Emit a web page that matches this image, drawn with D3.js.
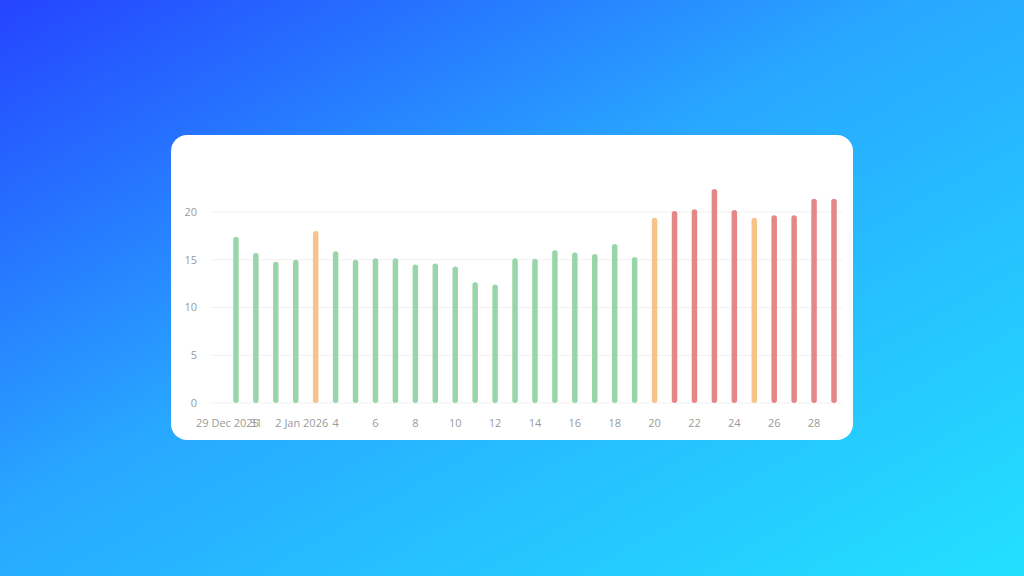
<!DOCTYPE html>
<html>
<head>
<meta charset="utf-8">
<script src="https://cdn.jsdelivr.net/npm/d3@7/dist/d3.min.js"></script>
<style>
  html, body { margin: 0; padding: 0; width: 1024px; height: 576px; overflow: hidden; }
  svg { display: block; }
  text { font-family: "Open Sans", "Noto Sans", sans-serif; }
</style>
</head>
<body>
<svg id="chart" width="1024" height="576"></svg>
<script>
// ---- data ----
const startDate = "2025-12-30";
const values = [17.4, 15.7, 14.8, 15.0, 18.0, 15.9, 15.0, 15.15, 15.15, 14.5,
                14.6, 14.3, 12.65, 12.4, 15.15, 15.1, 16.0, 15.75, 15.6, 16.65,
                15.3, 19.4, 20.1, 20.3, 22.4, 20.2, 19.4, 19.65, 19.65, 21.4, 21.4];
const statuses = ["g","g","g","g","o","g","g","g","g","g",
                  "g","g","g","g","g","g","g","g","g","g",
                  "g","o","r","r","r","r","o","r","r","r","r"];
const yTicks = [0, 5, 10, 15, 20];
const xTickDates = ["2025-12-29","2025-12-31","2026-01-02","2026-01-04","2026-01-06","2026-01-08",
                    "2026-01-10","2026-01-12","2026-01-14","2026-01-16","2026-01-18","2026-01-20",
                    "2026-01-22","2026-01-24","2026-01-26","2026-01-28"];
const xTickLabels = ["29 Dec 2025","31","2 Jan 2026","4","6","8","10","12","14","16","18","20","22","24","26","28"];
const colors = { g: "#98d6aa", o: "#f6c48b", r: "#e58786" };

// ---- build ----
const parse = d3.utcParse("%Y-%m-%d");
const day0 = parse(startDate);
const data = values.map((v, i) => ({ date: d3.utcDay.offset(day0, i), value: v, status: statuses[i] }));

const svg = d3.select("#chart");
const defs = svg.append("defs");
const grad = defs.append("linearGradient").attr("id", "bg")
  .attr("x1", "0%").attr("y1", "0%").attr("x2", "100%").attr("y2", "100%");
grad.append("stop").attr("offset", "0%").attr("stop-color", "#2544ff");
grad.append("stop").attr("offset", "45%").attr("stop-color", "#28a8ff");
grad.append("stop").attr("offset", "100%").attr("stop-color", "#23e0ff");

svg.append("rect").attr("width", 1024).attr("height", 576).attr("fill", "url(#bg)");

// card
svg.append("rect").attr("x", 171).attr("y", 135).attr("width", 682).attr("height", 305)
  .attr("rx", 16).attr("fill", "#ffffff");

const x = d3.scaleUtc()
  .domain([parse("2025-12-29"), parse("2026-01-29")])
  .range([216, 834]);
const y = d3.scaleLinear().domain([0, 20]).range([403, 212]);

// grid
svg.append("g").selectAll("line").data(yTicks).join("line")
  .attr("x1", 210).attr("x2", 842)
  .attr("y1", d => y(d)).attr("y2", d => y(d))
  .attr("stroke", "#f1f1f1").attr("stroke-width", 1);

// y labels
svg.append("g").selectAll("text").data(yTicks).join("text")
  .attr("x", 197).attr("y", d => y(d)).attr("dy", "0.35em")
  .attr("text-anchor", "end").attr("font-size", 11).attr("fill", "#9a9a9a")
  .text(d => d);

// bars
const bw = 5.5;
svg.append("g").selectAll("rect").data(data).join("rect")
  .attr("x", d => x(d.date) - bw / 2)
  .attr("y", d => y(d.value))
  .attr("width", bw)
  .attr("height", d => y(0) - y(d.value))
  .attr("rx", bw / 2)
  .attr("fill", d => colors[d.status]);

// x labels (long labels nudged right, first one kept inside the plot's left edge)
const minLeft = 196;
svg.append("g").selectAll("text").data(xTickDates).join("text")
  .attr("y", 427)
  .attr("text-anchor", "start").attr("font-size", 11).attr("fill", "#9a9a9a")
  .text((d, i) => xTickLabels[i])
  .each(function (d, i) {
    const t = d3.select(this);
    const w = this.getComputedTextLength();
    let left = x(parse(d)) - w / 2 + (xTickLabels[i].includes(" ") ? 6 : 0);
    left = Math.max(left, minLeft);
    t.attr("x", left);
  });
</script>
</body>
</html>
